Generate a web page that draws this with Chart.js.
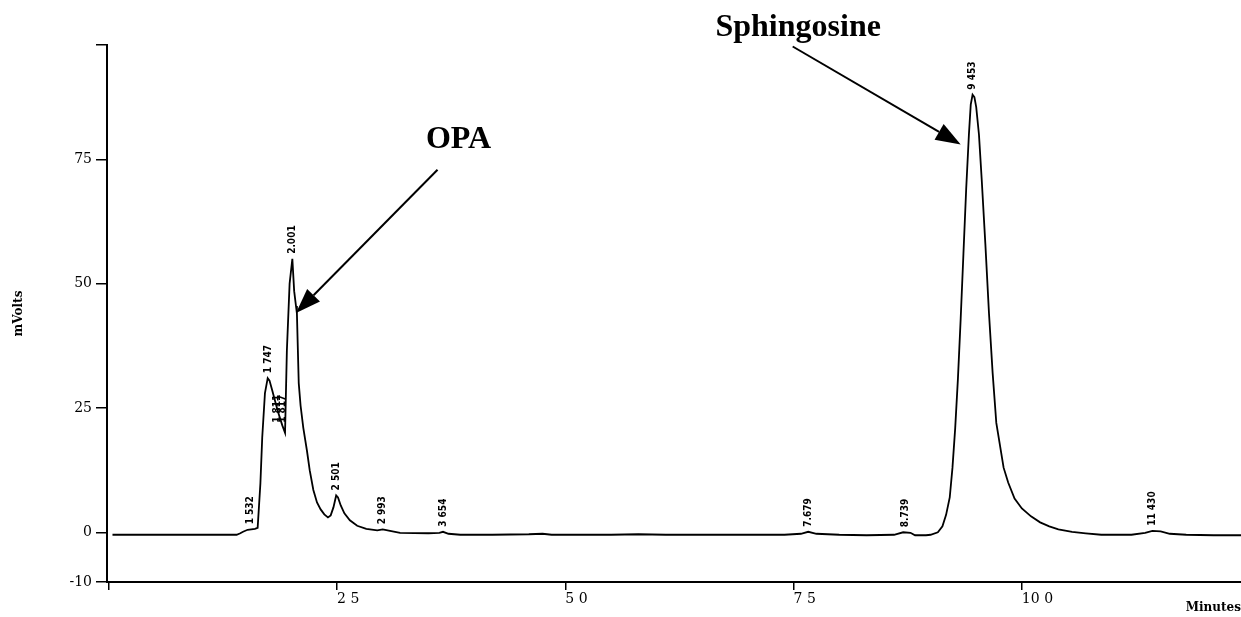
<!DOCTYPE html>
<html>
<head>
<meta charset="utf-8">
<script src="https://cdn.jsdelivr.net/npm/chart.js@4.4.1/dist/chart.umd.min.js"></script>
<style>
  html, body { margin: 0; padding: 0; background: #fff; }
  canvas { display: block; }
</style>
</head>
<body>
<canvas id="chart" width="1241" height="617"></canvas>
<script>
// trace (minutes, mVolts)
const times = [
  0.04, 0.5, 1.0, 1.40, 1.44, 1.47, 1.52, 1.56, 1.60, 1.63,
  1.66, 1.68, 1.71, 1.74, 1.76, 1.79, 1.85, 1.90, 1.93, 1.95,
  1.98, 2.01, 2.03, 2.05, 2.06, 2.08, 2.10, 2.13, 2.17, 2.20,
  2.24, 2.28, 2.32, 2.36, 2.40, 2.43, 2.46, 2.49, 2.51, 2.54,
  2.58, 2.64, 2.72, 2.82, 2.94, 3.00, 3.08, 3.19, 3.50, 3.62,
  3.66, 3.72, 3.85, 4.20, 4.60, 4.75, 4.85, 5.50, 5.80, 6.10,
  6.80, 7.40, 7.58, 7.66, 7.75, 8.00, 8.30, 8.60, 8.70, 8.78,
  8.83, 8.95, 9.00, 9.08, 9.13, 9.17, 9.21, 9.24, 9.27, 9.30,
  9.33, 9.36, 9.39, 9.42, 9.44, 9.46, 9.48, 9.50, 9.53, 9.56,
  9.60, 9.64, 9.68, 9.72, 9.80, 9.85, 9.92, 10.00, 10.10, 10.20,
  10.30, 10.40, 10.55, 10.70, 10.87, 11.20, 11.35, 11.43, 11.52, 11.62,
  11.80, 12.10, 12.40
];
const mvolts = [
  -0.5, -0.5, -0.5, -0.5, -0.2, 0.1, 0.5, 0.6, 0.7, 0.9,
  9.8, 19, 28, 31, 30.5, 28.5, 24.4, 21.5, 20, 36.5,
  50, 55, 48.5, 45.5, 44, 30, 25.5, 21, 16.4, 12.5,
  8.5, 6, 4.6, 3.6, 3.0, 3.4, 5, 7.4, 7, 5.4,
  3.8, 2.4, 1.3, 0.7, 0.4, 0.6, 0.3, -0.1, -0.2, -0.1,
  0.1, -0.3, -0.5, -0.5, -0.4, -0.3, -0.5, -0.5, -0.4, -0.5,
  -0.5, -0.5, -0.3, 0.1, -0.3, -0.5, -0.6, -0.5, 0.0, -0.1,
  -0.6, -0.6, -0.5, 0.0, 1.2, 3.5, 7, 13, 21, 31,
  43, 56, 69, 80, 86, 88, 87.5, 85.5, 80, 71,
  58, 44, 32, 22, 13, 10, 6.8, 4.8, 3.2, 2,
  1.2, 0.6, 0.1, -0.2, -0.5, -0.5, -0.1, 0.3, 0.2, -0.3,
  -0.5, -0.6, -0.6
];

const xTicks = [0, 2.5, 5, 7.5, 10];
const xTickLabels = ["", "2 5", "5 0", "7 5", "10 0"];
const yTicks = [-10, 0, 25, 50, 75, 98];
const yTickLabels = ["-10", "0", "25", "50", "75", ""];

// retention time labels printed above the peaks
const peakTimes = [1.55, 1.75, 1.85, 1.90, 2.01, 2.49, 3.00, 3.66, 7.66, 8.72, 9.46, 11.43];
const peakLevels = [0.6, 31, 21, 21, 55, 7.4, 0.6, 0.1, 0.1, 0.0, 88, 0.3];
const peakNames = ["1 532", "1 747", "1 811", "1 817", "2.001", "2 501", "2 993", "3 654", "7.679", "8.739", "9 453", "11 430"];

// callouts: label position, arrow tail, arrow tip (minutes, mVolts)
const calloutNames = ["OPA", "Sphingosine"];
const calloutText = [[3.83, 79], [7.55, 101.5]];
const calloutFrom = [[3.60, 72.9], [7.49, 97.7]];
const calloutTo = [[2.05, 44.1], [9.33, 78.0]];

function drawArrow(ctx, x0, y0, x1, y1) {
  const ang = Math.atan2(y1 - y0, x1 - x0);
  const len = 25, half = 9;
  const bx = x1 - len * Math.cos(ang);
  const by = y1 - len * Math.sin(ang);
  ctx.beginPath();
  ctx.moveTo(x0, y0);
  ctx.lineTo(bx, by);
  ctx.stroke();
  ctx.beginPath();
  ctx.moveTo(x1, y1);
  ctx.lineTo(bx + half * Math.sin(ang), by - half * Math.cos(ang));
  ctx.lineTo(bx - half * Math.sin(ang), by + half * Math.cos(ang));
  ctx.closePath();
  ctx.fill();
}

const annotate = {
  id: "annotate",
  afterDatasetsDraw(chart) {
    const { ctx } = chart;
    const x = chart.scales.x;
    const y = chart.scales.y;
    ctx.save();
    ctx.fillStyle = "#000";
    ctx.strokeStyle = "#000";

    ctx.font = 'bold 10px "Liberation Sans Narrow", "DejaVu Sans Condensed", sans-serif';
    ctx.textAlign = "left";
    ctx.textBaseline = "middle";
    peakTimes.forEach((t, i) => {
      ctx.save();
      ctx.translate(x.getPixelForValue(t), y.getPixelForValue(peakLevels[i]) - 5);
      ctx.rotate(-Math.PI / 2);
      ctx.fillText(peakNames[i], 0, 0);
      ctx.restore();
    });

    ctx.lineWidth = 2;
    calloutNames.forEach((name, i) => {
      drawArrow(ctx,
        x.getPixelForValue(calloutFrom[i][0]), y.getPixelForValue(calloutFrom[i][1]),
        x.getPixelForValue(calloutTo[i][0]), y.getPixelForValue(calloutTo[i][1]));
      ctx.font = 'bold 32px "Liberation Serif", "Times New Roman", serif';
      ctx.textAlign = "center";
      ctx.textBaseline = "middle";
      ctx.fillText(name, x.getPixelForValue(calloutText[i][0]), y.getPixelForValue(calloutText[i][1]));
    });
    ctx.restore();
  },
};

const tickFont = { family: '"DejaVu Serif", serif', size: 14 };

new Chart(document.getElementById("chart"), {
  type: "line",
  data: {
    datasets: [{
      data: times.map((t, i) => ({ x: t, y: mvolts[i] })),
      borderColor: "#000",
      borderWidth: 1.8,
      pointRadius: 0,
      tension: 0,
      fill: false,
    }],
  },
  options: {
    responsive: false,
    animation: false,
    layout: { padding: { top: 45, right: 0, left: 0, bottom: 0 } },
    plugins: { legend: { display: false }, tooltip: { enabled: false } },
    scales: {
      x: {
        type: "linear",
        min: -0.02,
        max: 12.4,
        afterBuildTicks: (s) => { s.ticks = xTicks.map((v) => ({ value: v })); },
        afterFit: (s) => { s.height = 35; },
        ticks: {
          autoSkip: false,
          maxRotation: 0,
          align: "start",
          padding: 1,
          color: "#000",
          font: tickFont,
          callback: (v) => xTickLabels[xTicks.indexOf(v)],
        },
        grid: { drawOnChartArea: false, drawTicks: true, tickLength: 8, color: "#000", lineWidth: 1.5 },
        border: { display: true, color: "#000", width: 2 },
        title: {
          display: true,
          text: "Minutes",
          align: "end",
          color: "#000",
          padding: { top: 0, bottom: 2 },
          font: { family: '"DejaVu Serif", serif', size: 12, weight: "bold" },
        },
      },
      y: {
        min: -10,
        max: 98,
        afterBuildTicks: (s) => { s.ticks = yTicks.map((v) => ({ value: v })); },
        afterFit: (s) => { s.width = 107; },
        ticks: {
          autoSkip: false,
          padding: 4,
          color: "#000",
          font: tickFont,
          callback: (v) => yTickLabels[yTicks.indexOf(v)],
        },
        grid: { drawOnChartArea: false, drawTicks: true, tickLength: 11, color: "#000", lineWidth: 1.5 },
        border: { display: true, color: "#000", width: 2 },
        title: {
          display: true,
          text: "mVolts",
          color: "#000",
          padding: { top: 12, bottom: 0 },
          font: { family: '"DejaVu Serif", serif', size: 12, weight: "bold" },
        },
      },
    },
  },
  plugins: [annotate],
});
</script>
</body>
</html>
